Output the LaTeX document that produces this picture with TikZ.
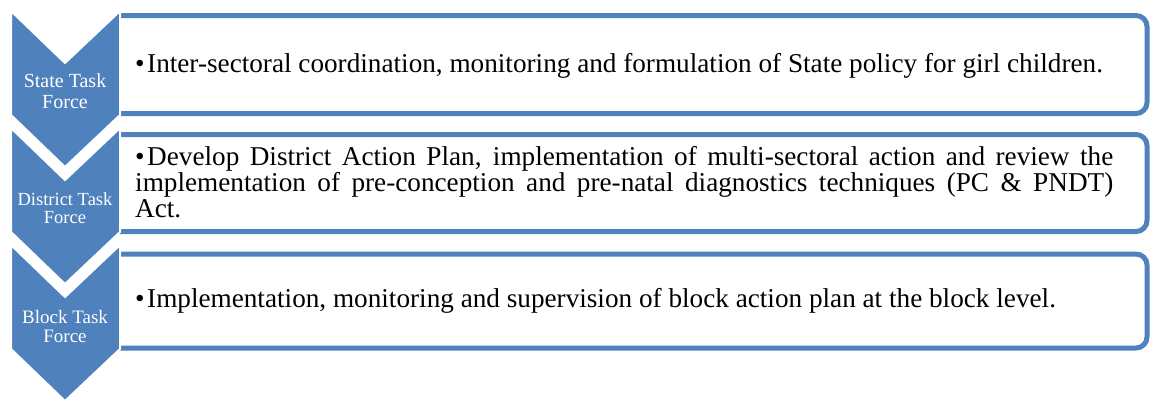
\documentclass[tikz,border=0pt]{standalone}
\usepackage{fontspec}
\setmainfont{Liberation Serif}
\usepackage{tikz}
\usetikzlibrary{positioning}
\definecolor{chevblue}{RGB}{79,129,189}
\newlength{\bulw}
\setlength{\bulw}{12pt}
\newcommand{\bulpar}[1]{\noindent\hangindent=\bulw\hangafter=1\makebox[\bulw][l]{\textbullet}#1}

\begin{document}
\begin{tikzpicture}[x=1pt, y=-1pt,
    listbox/.style={draw=chevblue, line width=5pt, fill=white, rounded corners=11pt},
    chevron/.style={fill=chevblue, draw=white, line width=2pt, line join=miter},
    chevtext/.style={text=white, align=center, inner sep=0pt},
    itemtext/.style={anchor=west, inner sep=0pt, text width=978pt, align=justify,
        font=\fontsize{27.2}{26}\selectfont}]

    \useasboundingbox (0,0) rectangle (1150,400);

    % Boxes
    \draw[listbox] (118,15.5) -- (1147,15.5) -- (1147,113.5) -- (118,113.5);
    \draw[listbox] (118,134.5) -- (1147,134.5) -- (1147,231.5) -- (118,231.5);
    \draw[listbox] (118,254) -- (1147,254) -- (1147,348) -- (118,348);

    % Chevrons
    \draw[chevron] (11,11) -- (65,63) -- (120,11) -- (120,115) -- (65,167) -- (11,115) -- cycle;
    \draw[chevron] (11,128) -- (65,180) -- (120,128) -- (120,232) -- (65,284) -- (11,232) -- cycle;
    \draw[chevron] (11,245) -- (65,297) -- (120,245) -- (120,349) -- (65,401) -- (11,349) -- cycle;

    % Levels
    \node[chevtext, font=\fontsize{20}{21}\selectfont] (state) at (65,91) {State Task\\Force};
    \node[chevtext, font=\fontsize{18.5}{18.5}\selectfont] (district) at (65,208) {District Task\\Force};
    \node[chevtext, font=\fontsize{19}{19}\selectfont] (block) at (65,326) {Block Task\\Force};

    % Roles
    \node[itemtext] (staterole) at (135,66)
        {\bulpar{Inter-sectoral coordination, monitoring and formulation of State policy for girl children.}};
    \node[itemtext] (districtrole) at (135,182)
        {\bulpar{Develop District Action Plan, implementation of multi-sectoral action and review the\linebreak
        implementation of pre-conception and pre-natal diagnostics techniques (PC \& PNDT)\linebreak
        Act.}};
    \node[itemtext] (blockrole) at (135,301)
        {\bulpar{Implementation, monitoring and supervision of block action plan at the block level.}};
\end{tikzpicture}
\end{document}
